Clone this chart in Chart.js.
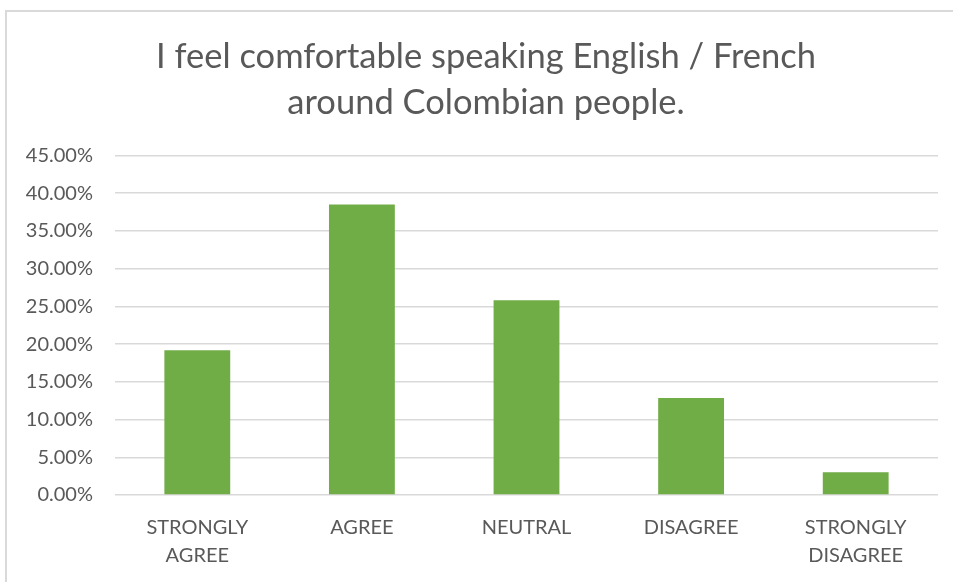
<!DOCTYPE html>
<html>
<head>
<meta charset="utf-8">
<script src="https://cdn.jsdelivr.net/npm/chart.js@4.4.1/dist/chart.umd.min.js"></script>
<style>
  html, body { margin: 0; padding: 0; background: #fff; overflow: hidden; }
  #frame {
    position: absolute; left: 5px; top: 10px; width: 1000px; height: 700px;
    border-left: 2px solid #d9d9d9; border-top: 2px solid #d9d9d9;
  }
  #wrap { position: absolute; left: 0; top: 0; width: 953px; height: 582px; }
</style>
</head>
<body>
<div id="frame"></div>
<div id="wrap"><canvas id="comfortChart"></canvas></div>
<script>
// ===== SURVEY DATA =====
const categories = [['STRONGLY', 'AGREE'], 'AGREE', 'NEUTRAL', 'DISAGREE', ['STRONGLY', 'DISAGREE']];
const shares = [19.2, 38.5, 25.8, 12.85, 3.0];
const titleLines = ['I feel comfortable speaking English / French', 'around Colombian people.'];

const COLORS = {
  bar: '#70AD47',
  grid: '#d9d9d9',
  text: '#595959',
};

const FONT = 'Lato, "Open Sans", sans-serif';

// nudge the title block so its centre sits a bit right of the canvas middle
const titleShift = {
  id: 'titleShift',
  afterLayout(chart) {
    if (chart.titleBlock) chart.titleBlock.left += 34;
  },
};

new Chart(document.getElementById('comfortChart'), {
  type: 'bar',
  data: {
    labels: categories,
    datasets: [{
      data: shares,
      backgroundColor: COLORS.bar,
      borderWidth: 0,
      categoryPercentage: 1,
      barPercentage: 0.4,
    }],
  },
  plugins: [titleShift],
  options: {
    responsive: true,
    maintainAspectRatio: false,
    animation: false,
    layout: { padding: { left: 0, right: 15, top: 0, bottom: 0 } },
    plugins: {
      legend: { display: false },
      tooltip: { enabled: false },
      title: {
        display: true,
        text: titleLines,
        color: COLORS.text,
        font: { family: FONT, size: 34.5, weight: 'normal', lineHeight: 1.34 },
        padding: { top: 34, bottom: 29 },
      },
    },
    scales: {
      x: {
        grid: { display: false, drawTicks: false },
        border: { display: false },
        ticks: {
          color: COLORS.text,
          font: { family: FONT, size: 20, lineHeight: 1.4 },
          padding: 19,
          maxRotation: 0,
          autoSkip: false,
        },
        afterFit: (scale) => { scale.height = 87; },
      },
      y: {
        min: 0,
        max: 45,
        grid: { color: COLORS.grid, lineWidth: 1.5, drawTicks: false },
        border: { display: false },
        ticks: {
          stepSize: 5,
          color: COLORS.text,
          font: { family: FONT, size: 20 },
          padding: 22,
          callback: (v) => `${v.toFixed(2)}%`,
        },
        afterFit: (scale) => { scale.width = 115; },
      },
    },
  },
});
</script>
</body>
</html>
